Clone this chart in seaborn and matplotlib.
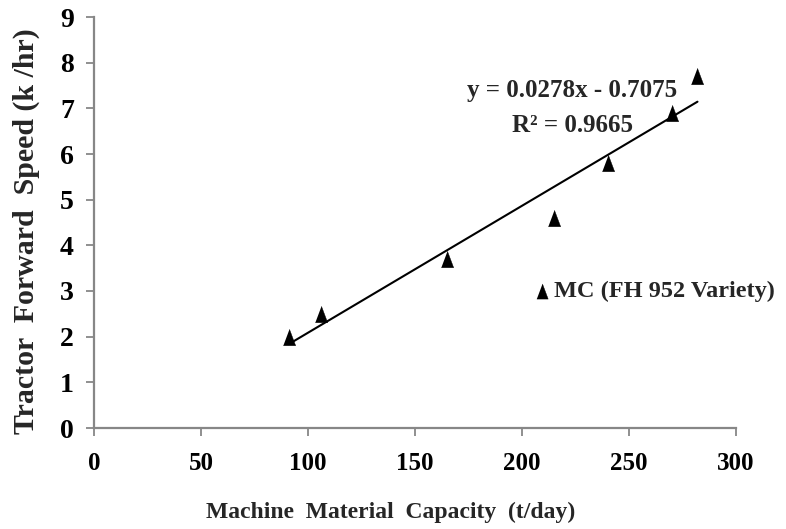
import numpy as np
import pandas as pd
import matplotlib
matplotlib.use("Agg")
import matplotlib.pyplot as plt
import seaborn as sns

capacity = [91, 106, 165, 215, 240, 270, 282]
speed = [2.0, 2.5, 3.7, 4.6, 5.8, 6.9, 7.7]
series_name = "MC (FH 952 Variety)"
x_ticks = [0, 50, 100, 150, 200, 250, 300]
y_ticks = [0, 1, 2, 3, 4, 5, 6, 7, 8, 9]
eq_text = "y = 0.0278x - 0.7075"
r2_text = "R² = 0.9665"

df = pd.DataFrame({"cap": capacity, "speed": speed})

sns.set_theme(style="white")
plt.rcParams["font.family"] = ["Liberation Serif", "DejaVu Serif"]
plt.rcParams["font.weight"] = "bold"

W, H = 786, 529
fig = plt.figure(figsize=(W / 100, H / 100), dpi=100)
ax = fig.add_axes([94 / W, (H - 428) / H, (736 - 94) / W, (428 - 17) / H])

tall_tri = [(-0.75, -1.0), (0.75, -1.0), (0.0, 1.0)]

sns.regplot(data=df, x="cap", y="speed", ax=ax, ci=None, scatter=False,
            truncate=True, line_kws=dict(color="black", lw=1.5))
sns.scatterplot(data=df, x="cap", y="speed", ax=ax, marker=tall_tri, s=140,
                color="black", edgecolor="black", linewidth=0.3,
                label=series_name, zorder=5)

ax.set_xlim(0, 300)
ax.set_ylim(0, 9)
ax.set_xticks(x_ticks)
ax.set_yticks(y_ticks)
ax.set_xticklabels([str(t) for t in x_ticks], fontsize=18, fontweight="bold")
ax.set_yticklabels([str(t) for t in y_ticks], fontsize=20, fontweight="bold")

for s in ["top", "right"]:
    ax.spines[s].set_visible(False)
for s in ["left", "bottom"]:
    ax.spines[s].set_color("#878787")
    ax.spines[s].set_linewidth(1.6)
ax.tick_params(axis="both", which="major", direction="out", length=5.5,
               width=1.3, color="#878787", labelcolor="black",
               bottom=True, left=True)
ax.tick_params(axis="x", pad=12)
ax.tick_params(axis="y", pad=9)

ax.set_xlabel("Machine  Material  Capacity  (t/day)", fontsize=17,
              fontweight="bold")
ax.set_ylabel("Tractor  Forward  Speed (k /hr)", fontsize=21.5,
              fontweight="bold")
ax.xaxis.set_label_coords(391 / W, 1 - 512 / H, transform=fig.transFigure)
ax.xaxis.label.set_va("center")
ax.yaxis.set_label_coords(26 / W, 1 - 231 / H, transform=fig.transFigure)
ax.yaxis.label.set_va("center")

fig.text(572 / W, 1 - 97 / H, eq_text, ha="center", va="baseline",
         fontsize=18, fontweight="bold")
fig.text(572 / W, 1 - 132 / H, r2_text, ha="center", va="baseline",
         fontsize=18, fontweight="bold")

leg = ax.legend(loc="center left", bbox_to_anchor=(530 / W, 1 - 291 / H),
                bbox_transform=fig.transFigure, frameon=False,
                borderpad=0, borderaxespad=0, handlelength=1.0,
                handletextpad=0.0, markerscale=0.92,
                prop=dict(family="Liberation Serif", weight="bold", size=17.5))

fig.savefig("out.png", dpi=100)
